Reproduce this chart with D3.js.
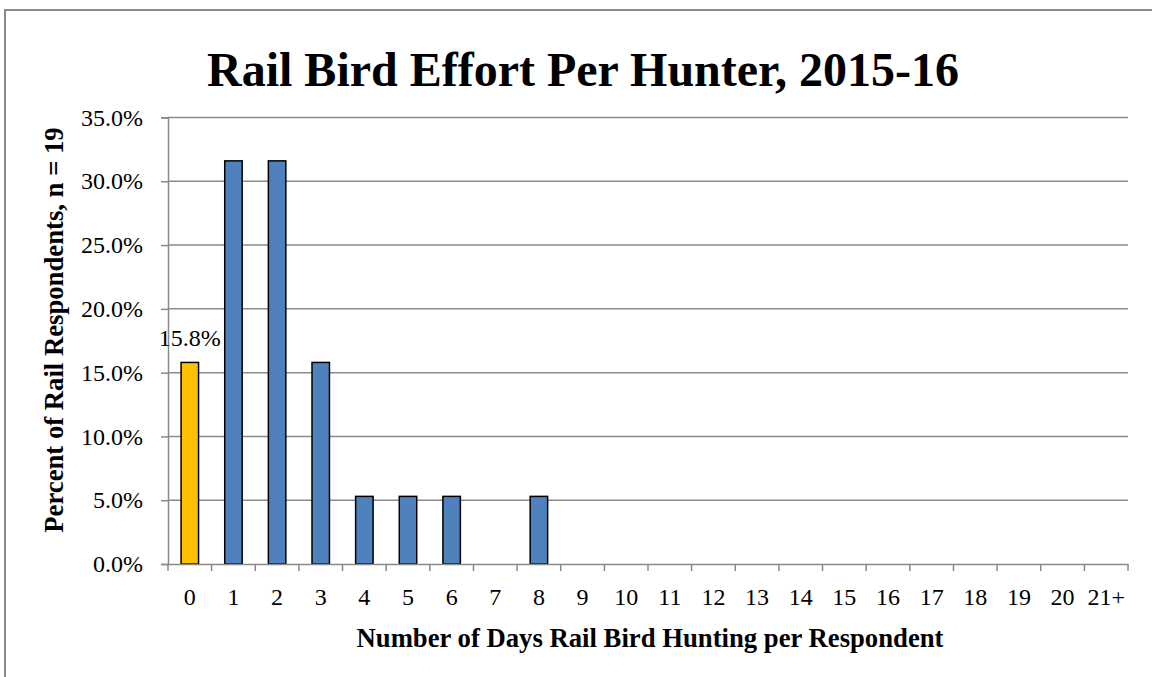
<!DOCTYPE html>
<html><head><meta charset="utf-8">
<script src="https://cdn.jsdelivr.net/npm/d3@7"></script>
<style>body{margin:0;background:#fff}svg{display:block}</style>
</head><body>
<svg id="c" width="1152" height="677"></svg>
<script>
const categories = ["0","1","2","3","4","5","6","7","8","9","10","11","12","13","14","15","16","17","18","19","20","21+"];
const values = [15.8,31.6,31.6,15.8,5.3,5.3,5.3,0,5.3,0,0,0,0,0,0,0,0,0,0,0,0,0];
const yTicks = [0,5,10,15,20,25,30,35];
const highlightCategory = "0";
const labelledCategory = "0";
const chartTitle = "Rail Bird Effort Per Hunter, 2015-16";
const xTitle = "Number of Days Rail Bird Hunting per Respondent";
const yTitle = "Percent of Rail Respondents, n = 19";

(function(){
const svg = d3.select("#c");
const font = "'Liberation Serif','Times New Roman',serif";
const pLeft = 168, pRight = 1128, pTop = 117.5, pBottom = 564;
const gray = "#8a8a8a";

svg.append("rect").attr("x",5).attr("y",10).attr("width",1300).attr("height",800)
  .attr("fill","#fff").attr("stroke",gray).attr("stroke-width",2);

const x = d3.scaleBand().domain(categories).range([pLeft,pRight]).paddingInner(0.6).paddingOuter(0.3);
const y = d3.scaleLinear().domain([0,35]).range([pBottom,pTop]);

svg.append("g").selectAll("line").data(yTicks.filter(d=>d>0)).join("line")
  .attr("x1",pLeft).attr("x2",pRight).attr("y1",d=>y(d)).attr("y2",d=>y(d))
  .attr("stroke",gray).attr("stroke-width",1.5);

const yAxis = svg.append("g").attr("transform",`translate(${pLeft},0)`)
  .call(d3.axisLeft(y).tickValues(yTicks).tickSize(7).tickPadding(18).tickFormat(d=>d.toFixed(1)+"%"));
yAxis.select(".domain").attr("stroke",gray).attr("stroke-width",1.5);
yAxis.selectAll(".tick line").attr("stroke",gray).attr("stroke-width",1.5);
yAxis.selectAll("text").attr("font-family",font).attr("font-size",24).attr("fill","#000").attr("dy","0.32em");

svg.append("g").selectAll("rect").data(categories).join("rect")
  .attr("x",d=>x(d)).attr("width",x.bandwidth())
  .attr("y",(d,i)=>y(values[i])).attr("height",(d,i)=>y(0)-y(values[i]))
  .attr("fill",d=>d===highlightCategory?"#FFC000":"#4F81BD")
  .attr("stroke","#000").attr("stroke-width",1.5)
  .style("display",(d,i)=>values[i]>0?null:"none");

const step = x.step();
const xAxis = svg.append("g").attr("transform",`translate(0,${pBottom})`)
  .call(d3.axisBottom(x).tickSize(0).tickPadding(24));
xAxis.select(".domain").attr("stroke",gray).attr("stroke-width",1.5);
xAxis.selectAll("text").attr("font-family",font).attr("font-size",24).attr("fill","#000");
const bounds = d3.range(categories.length+1).map(i=>x(categories[0]) - x.paddingOuter()*step + i*step);
xAxis.append("g").selectAll("line").data(bounds).join("line")
  .attr("x1",d=>d).attr("x2",d=>d).attr("y1",0).attr("y2",7)
  .attr("stroke",gray).attr("stroke-width",1.5);

const li = categories.indexOf(labelledCategory);
svg.append("text").attr("x",x(labelledCategory)+x.bandwidth()/2).attr("y",y(values[li])-16)
  .attr("text-anchor","middle").attr("font-family",font).attr("font-size",24)
  .text(values[li].toFixed(1)+"%");

svg.append("text").attr("x",583).attr("y",86).attr("text-anchor","middle")
  .attr("font-family",font).attr("font-weight","bold").attr("font-size",48).text(chartTitle);
svg.append("text").attr("x",650).attr("y",647).attr("text-anchor","middle")
  .attr("font-family",font).attr("font-weight","bold").attr("font-size",26.7).text(xTitle);
svg.append("text").attr("transform","translate(63,330) rotate(-90)").attr("text-anchor","middle")
  .attr("font-family",font).attr("font-weight","bold").attr("font-size",26.7).text(yTitle);
})();
</script>
</body></html>
